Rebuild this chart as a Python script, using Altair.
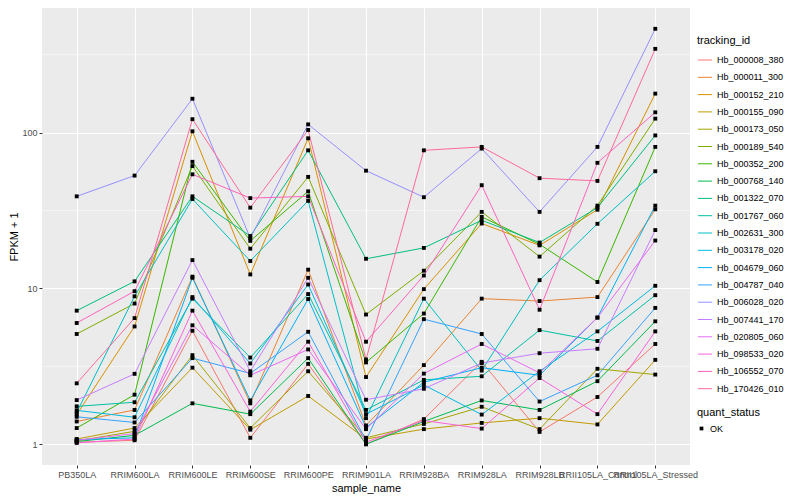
import math
import altair as alt
import pandas as pd

samples = ["PB350LA", "RRIM600LA", "RRIM600LE", "RRIM600SE", "RRIM600PE", "RRIM901LA",
           "RRIM928BA", "RRIM928LA", "RRIM928LB", "RRII105LA_Control", "RRII105LA_Stressed"]

tracking_ids = ["Hb_000008_380", "Hb_000011_300", "Hb_000152_210", "Hb_000155_090",
                "Hb_000173_050", "Hb_000189_540", "Hb_000352_200", "Hb_000768_140",
                "Hb_001322_070", "Hb_001767_060", "Hb_002631_300", "Hb_003178_020",
                "Hb_004679_060", "Hb_004787_040", "Hb_006028_020", "Hb_007441_170",
                "Hb_020805_060", "Hb_098533_020", "Hb_106552_070", "Hb_170426_010"]

hb_000008_380 = [1.03, 1.06, 5.35, 1.1, 3.28, 1.0, 1.45, 3.38, 1.2, 2.01, 4.4]
hb_000011_300 = [1.4, 1.66, 11.9, 1.83, 13.2, 1.32, 3.22, 8.6, 8.3, 8.8, 32.2]
hb_000152_210 = [1.55, 5.7, 102, 12.3, 92, 2.7, 9.9, 26.1, 18.9, 32, 178]
hb_000155_090 = [1.08, 1.27, 3.1, 1.24, 2.04, 1.08, 1.25, 1.37, 1.47, 1.34, 3.48]
hb_000173_050 = [1.05, 1.21, 3.73, 1.27, 2.94, 1.1, 1.35, 1.74, 1.25, 3.05, 2.8]
hb_000189_540 = [5.1, 8.0, 61, 18, 52, 6.8, 13.0, 31, 16, 34, 123]
hb_000352_200 = [1.27, 2.08, 65, 20.2, 42, 3.35, 6.9, 28.8, 19.2, 11, 81]
hb_000768_140 = [1.04, 1.14, 1.83, 1.56, 3.57, 1.0, 1.4, 1.91, 1.66, 2.54, 6.15]
hb_001322_070 = [7.2, 11.1, 39, 21.7, 77, 15.5, 18.2, 27.4, 19.7, 33, 96]
hb_001767_060 = [1.75, 1.86, 8.6, 3.6, 9.2, 1.66, 2.59, 2.73, 5.4, 4.6, 9.05]
hb_002631_300 = [1.6, 8.9, 37.5, 15, 36.5, 1.47, 8.6, 2.97, 11.3, 26, 56.5]
hb_003178_020 = [1.65, 1.49, 8.8, 3.3, 10.6, 1.56, 2.4, 1.55, 2.94, 5.3, 10.4]
hb_004679_060 = [1.07, 1.1, 11.7, 1.91, 8.55, 1.28, 2.5, 3.1, 2.77, 6.5, 34]
hb_004787_040 = [1.5, 1.38, 3.57, 2.85, 5.27, 1.06, 6.35, 5.1, 1.88, 2.77, 7.5]
hb_006028_020 = [39, 53, 165, 21, 113, 57, 38.5, 79, 31, 81, 464]
hb_007441_170 = [1.92, 2.83, 15.2, 2.94, 11.7, 1.93, 2.27, 3.32, 3.84, 4.1, 23.7]
hb_020805_060 = [1.06, 1.17, 5.8, 2.77, 4.06, 1.25, 2.84, 4.4, 2.87, 6.5, 20.3]
hb_098533_020 = [1.02, 1.08, 7.2, 1.62, 4.55, 1.03, 1.42, 1.26, 2.66, 1.56, 5.3]
hb_106552_070 = [6.0, 9.6, 54, 38, 39, 4.55, 12.1, 46, 7.3, 64, 135]
hb_170426_010 = [2.46, 6.45, 122, 33, 104, 3.5, 77, 81, 51, 49, 345]

series = [hb_000008_380, hb_000011_300, hb_000152_210, hb_000155_090, hb_000173_050,
          hb_000189_540, hb_000352_200, hb_000768_140, hb_001322_070, hb_001767_060,
          hb_002631_300, hb_003178_020, hb_004679_060, hb_004787_040, hb_006028_020,
          hb_007441_170, hb_020805_060, hb_098533_020, hb_106552_070, hb_170426_010]

y_ticks = [1, 10, 100]
y_minor = [3.1623, 31.623, 316.23]


def hcl_hex(h, c=100.0, l=65.0):
    hr = math.radians(h)
    u, v = c * math.cos(hr), c * math.sin(hr)
    Y = ((l + 16) / 116) ** 3
    Xn, Yn, Zn = 0.95047, 1.0, 1.08883
    t = Xn + 15 * Yn + 3 * Zn
    un, vn = 4 * Xn / t, 9 * Yn / t
    up, vp = u / (13 * l) + un, v / (13 * l) + vn
    X = Y * 9 * up / (4 * vp)
    Z = Y * (12 - 3 * up - 20 * vp) / (4 * vp)
    rgb = [3.240479 * X - 1.537150 * Y - 0.498535 * Z,
           -0.969256 * X + 1.875992 * Y + 0.041556 * Z,
           0.055648 * X - 0.204043 * Y + 1.057311 * Z]
    out = []
    for ch in rgb:
        ch = 12.92 * ch if ch <= 0.0031308 else 1.055 * ch ** (1 / 2.4) - 0.055
        out.append(int(round(min(max(ch, 0), 1) * 255)))
    return "#%02X%02X%02X" % tuple(out)


colors = [hcl_hex(15 + i * 18) for i in range(len(tracking_ids))]

rows = []
for tid, vals in zip(tracking_ids, series):
    for s, v in zip(samples, vals):
        rows.append({"tracking_id": tid, "sample_name": s, "fpkm1": v, "quant_status": "OK"})
df = pd.DataFrame(rows)

ymin = 10 ** (-0.1333)
ymax = 10 ** (2.8)

x_enc = alt.X("sample_name:N", sort=samples, title="sample_name",
              scale=alt.Scale(type="point", padding=0.6),
              axis=alt.Axis(labelOverlap=False, labelAngle=0, grid=True))
y_scale = alt.Scale(type="log", domain=[ymin, ymax], nice=False, clamp=False)
y_enc = alt.Y("fpkm1:Q", title="FPKM + 1", scale=y_scale,
              axis=alt.Axis(values=y_ticks, format="d", grid=True))

minor = alt.Chart(pd.DataFrame({"m": y_minor})).mark_rule(
    color="white", strokeWidth=0.55).encode(y=alt.Y("m:Q", scale=y_scale))

lines = alt.Chart(df).mark_line(strokeWidth=1).encode(
    x=x_enc, y=y_enc,
    color=alt.Color("tracking_id:N", sort=tracking_ids,
                    scale=alt.Scale(domain=tracking_ids, range=colors),
                    legend=alt.Legend(title="tracking_id", orient="none",
                                      legendX=655, legendY=27,
                                      symbolType="stroke", symbolStrokeWidth=1,
                                      symbolSize=200, rowPadding=4.3,
                                      labelFontSize=9, titleFontSize=11,
                                      titlePadding=6)),
    detail="tracking_id:N",
)

points = alt.Chart(df).mark_point(filled=True, size=15, color="black", opacity=1).encode(
    x=x_enc, y=y_enc,
    shape=alt.Shape("quant_status:N",
                    scale=alt.Scale(domain=["OK"], range=["square"]),
                    legend=alt.Legend(title="quant_status", orient="none",
                                      legendX=655, legendY=399,
                                      symbolSize=14, labelFontSize=9,
                                      titleFontSize=11, titlePadding=6)),
)

chart = alt.layer(minor, lines, points).properties(
    width=648, height=457,
    autosize=alt.AutoSizeParams(type="none"),
    padding={"left": 34, "top": 0, "right": 102, "bottom": 35},
).configure_view(
    fill="#EBEBEB", stroke=None
).configure_axis(
    domain=False, gridColor="white", gridWidth=1.1,
    tickColor="#333333", tickSize=3, tickWidth=1,
    labelColor="#4D4D4D", labelFontSize=9, labelFont="Liberation Sans",
    titleFont="Liberation Sans", titleFontSize=11, titleFontWeight="normal",
    titleColor="black", labelPadding=2, titlePadding=3,
).configure_legend(
    titleFont="Liberation Sans", labelFont="Liberation Sans",
    titleFontWeight="normal", titleColor="black", labelColor="black",
).configure_axisY(titlePadding=2)

chart.save("out.html", embed_options={"renderer": "svg", "actions": False})
